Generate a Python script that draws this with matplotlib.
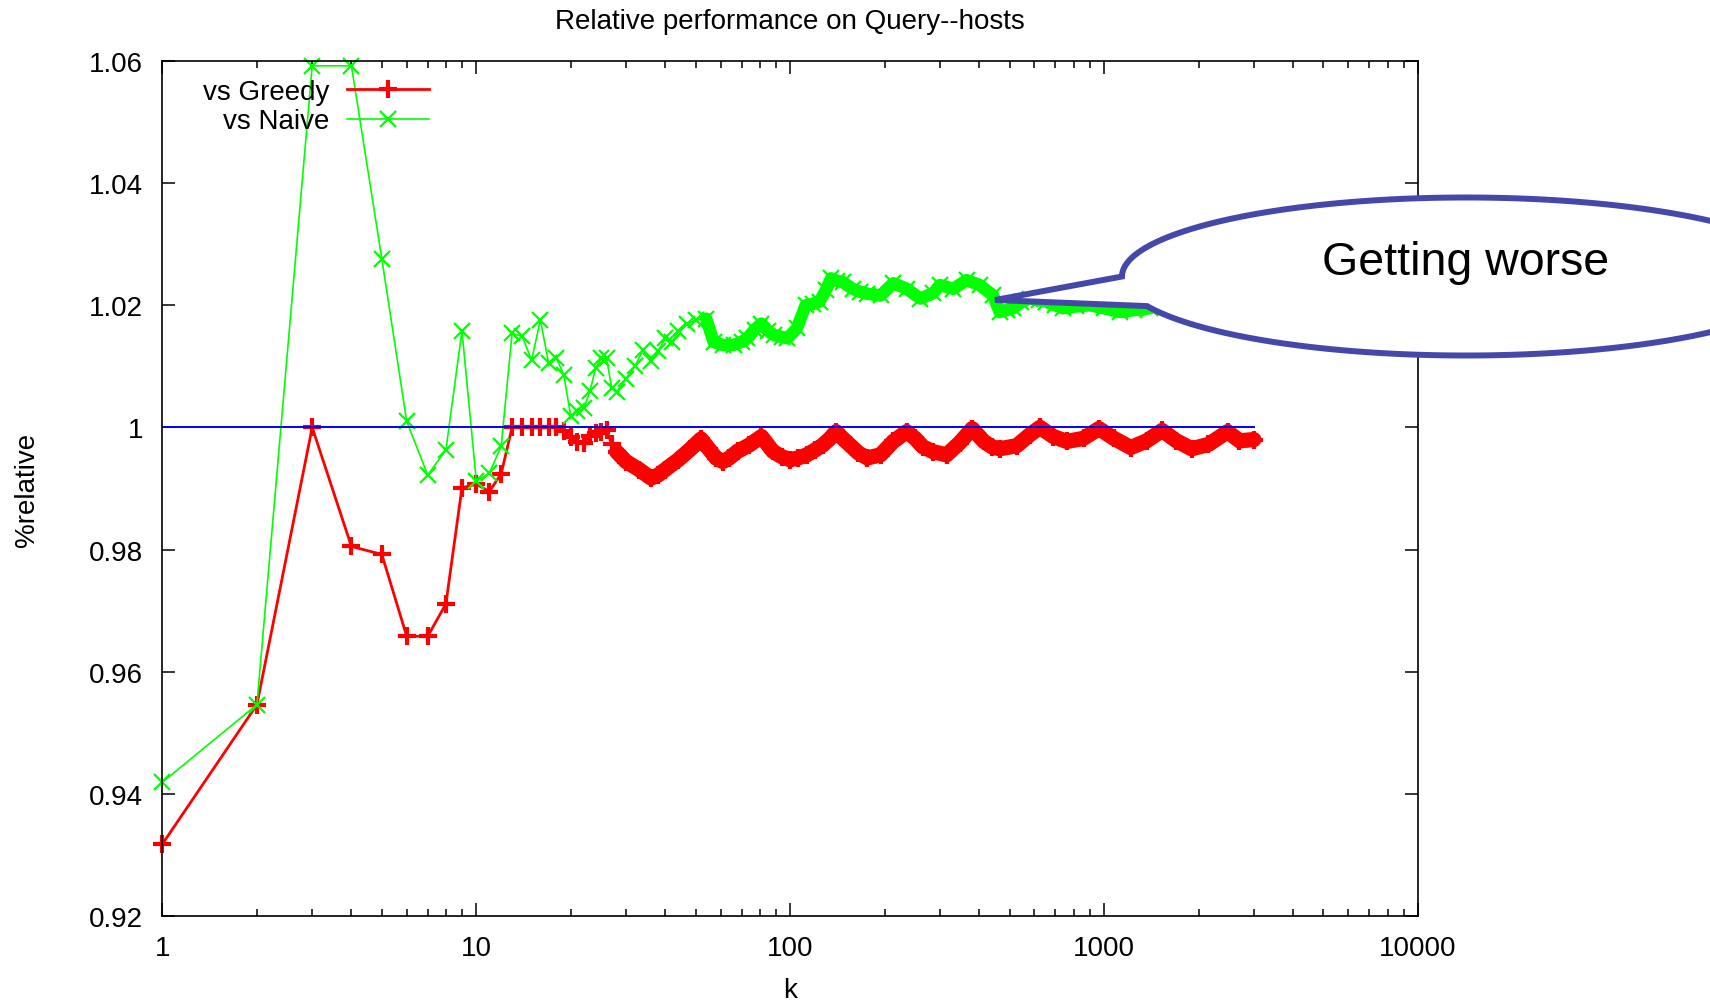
import numpy as np
import matplotlib.pyplot as plt
from matplotlib.patches import Polygon
from matplotlib.ticker import FuncFormatter, LogLocator, NullFormatter

# k values and relative performance
greedy_k = [1, 2, 3, 4, 5, 6, 7, 8, 9, 10, 11, 12, 13, 14, 15, 16, 17, 18,
            19, 20, 21, 22, 23, 24, 25, 26, 27, 28, 30, 33, 36, 38, 40, 44,
            48, 52, 55, 58, 61, 64, 68, 74, 81, 88, 94, 100, 106, 113, 120,
            127, 134, 140, 147, 155, 165, 176, 194, 213, 235, 250, 265, 286,
            315, 347, 380, 414, 440, 465, 527, 580, 625, 689, 760, 860, 963,
            1075, 1216, 1368, 1530, 1700, 1900, 2150, 2475, 2700, 3000]
greedy_rel = [0.9318, 0.9546, 1.0, 0.9805, 0.9792, 0.9658, 0.9658, 0.9711,
              0.9901, 0.9907, 0.9895, 0.9924, 1.0, 1.0, 1.0, 1.0, 1.0, 1.0,
              0.9994, 0.9984, 0.9976, 0.9974, 0.9986, 0.9991, 0.9993, 0.9996,
              0.9972, 0.9960, 0.9944, 0.9931, 0.9917, 0.9922, 0.9931, 0.9947,
              0.9964, 0.9981, 0.9965, 0.9950, 0.9944, 0.9950, 0.9961, 0.9971,
              0.9985, 0.9961, 0.9952, 0.9947, 0.9950, 0.9955, 0.9963, 0.9971,
              0.9982, 0.9993, 0.9982, 0.9971, 0.9958, 0.9950, 0.9955, 0.9977,
              0.9993, 0.9982, 0.9968, 0.9960, 0.9955, 0.9975, 0.9998, 0.9977,
              0.9968, 0.9965, 0.9970, 0.9988, 1.0, 0.9985, 0.9977, 0.9982,
              0.9998, 0.9982, 0.9967, 0.9978, 0.9995, 0.9978, 0.9965, 0.9972,
              0.9993, 0.9978, 0.9980]

naive_k = [1, 2, 3, 4, 5, 6, 7, 8, 9, 10, 11, 12, 13, 14, 15, 16, 17, 18,
           19, 20, 21, 22, 23, 24, 25, 26, 27, 28, 30, 32, 34, 36, 38, 40,
           42, 44, 47, 50, 54, 57, 61, 66, 70, 73, 77, 81, 85, 89, 94, 98,
           105, 112, 118, 124, 130, 135, 141, 147, 158, 167, 176, 194, 213,
           235, 260, 286, 300, 331, 365, 402, 443, 465, 490, 513, 545, 580,
           620, 655, 700, 740, 815, 900, 1000, 1125, 1245, 1400]
naive_rel = [0.9419, 0.9546, 1.0592, 1.0592, 1.0276, 1.0010, 0.9922, 0.9963,
             1.0158, 0.9912, 0.9925, 0.9969, 1.0154, 1.0149, 1.0110, 1.0176,
             1.0105, 1.0113, 1.0086, 1.0018, 1.0026, 1.0031, 1.0059, 1.0097,
             1.0113, 1.0113, 1.0064, 1.0058, 1.0080, 1.0100, 1.0127, 1.0108,
             1.0125, 1.0146, 1.0140, 1.0157, 1.0170, 1.0176, 1.0178, 1.0140,
             1.0135, 1.0135, 1.0140, 1.0146, 1.0160, 1.0170, 1.0158, 1.0151,
             1.0148, 1.0146, 1.0162, 1.0200, 1.0202, 1.0206, 1.0225, 1.0244,
             1.0240, 1.0238, 1.0227, 1.0222, 1.0219, 1.0216, 1.0236, 1.0227,
             1.0211, 1.0220, 1.0233, 1.0227, 1.0241, 1.0233, 1.0216, 1.0189,
             1.0192, 1.0195, 1.0205, 1.0211, 1.0208, 1.0206, 1.0200, 1.0195,
             1.0198, 1.0200, 1.0195, 1.0189, 1.0192, 1.0195]

baseline_k = [1, 3000]
baseline_rel = [1.0, 1.0]

plt.rcParams['font.family'] = ['Liberation Sans', 'DejaVu Sans']

W, H = 1710, 1004
fig = plt.figure(figsize=(W / 100, H / 100), dpi=100)
ax = fig.add_axes([0.0950, 0.0867, 0.7342, 0.8516])

gk, gr = np.array(greedy_k), np.array(greedy_rel)
nk, nr = np.array(naive_k), np.array(naive_rel)

# where k gets large the markers pile up into a solid band
ax.plot(gk[gk >= 28], gr[gk >= 28], color='#ff0000', lw=11,
        solid_joinstyle='round', solid_capstyle='round')
ax.plot(gk, gr, color='#ff0000', lw=2.0, marker='+', ms=13,
        mew=3.0, label='vs Greedy', clip_on=False)
ax.plot(nk[nk >= 54], nr[nk >= 54], color='#00ff00', lw=9,
        solid_joinstyle='round', solid_capstyle='round')
ax.plot(nk, nr, color='#00ff00', lw=1.2, marker='x', ms=11,
        mew=1.6, label='vs Naive', clip_on=False)
ax.plot(baseline_k, baseline_rel, color='#0000ff', lw=1.4)

ax.set_xscale('log')
ax.set_xlim(1, 10000)
ax.set_ylim(0.92, 1.06)
ax.set_yticks(np.arange(0.92, 1.0601, 0.02))
ax.yaxis.set_major_formatter(FuncFormatter(lambda v, p: f'{round(v, 2):g}'))
ax.xaxis.set_major_formatter(FuncFormatter(lambda v, p: f'{v:g}'))
ax.xaxis.set_minor_locator(LogLocator(base=10, subs=np.arange(2, 10)))
ax.xaxis.set_minor_formatter(NullFormatter())

ax.tick_params(which='both', direction='in', top=True, right=True,
               labelsize=20, pad=14, width=1.1)
ax.tick_params(which='major', length=9.5)
ax.tick_params(which='minor', length=5)
for s in ax.spines.values():
    s.set_linewidth(1.2)

ax.set_title('Relative performance on Query--hosts', fontsize=20, pad=24)
ax.set_xlabel('k', fontsize=20)
ax.set_ylabel('%relative', fontsize=20)
ax.xaxis.set_label_coords(0.5, -0.0713)
ax.yaxis.set_label_coords(-0.0976, 0.5)

leg = ax.legend(loc='upper left', bbox_to_anchor=(0.032, 0.979),
                frameon=False, markerfirst=False, fontsize=20,
                handlelength=2.95, handletextpad=0.65, labelspacing=0.12,
                borderpad=0, borderaxespad=0, numpoints=1)
# gnuplot style: right-aligned key text
for col in leg._legend_handle_box.get_children():
    col.align = 'right'

# speech-bubble callout (pixel coords, y down)
cx, cy, a, b = 1466, 277.5, 344, 79
t = np.radians(np.linspace(180, -158, 300))
verts = [(cx + a * np.cos(tt), cy - b * np.sin(tt)) for tt in t]
verts.append((995, 301))
verts = [(x / W, 1 - y / H) for x, y in verts]
bubble = Polygon(verts, closed=True, transform=fig.transFigure,
                 facecolor='white', edgecolor='#4449a9', lw=4.3,
                 joinstyle='miter', zorder=5)
fig.add_artist(bubble)
fig.text(1466 / W, 1 - 275 / H, 'Getting worse', fontsize=33.5,
         ha='center', va='baseline', zorder=6)

fig.savefig('out.png', dpi=100)
